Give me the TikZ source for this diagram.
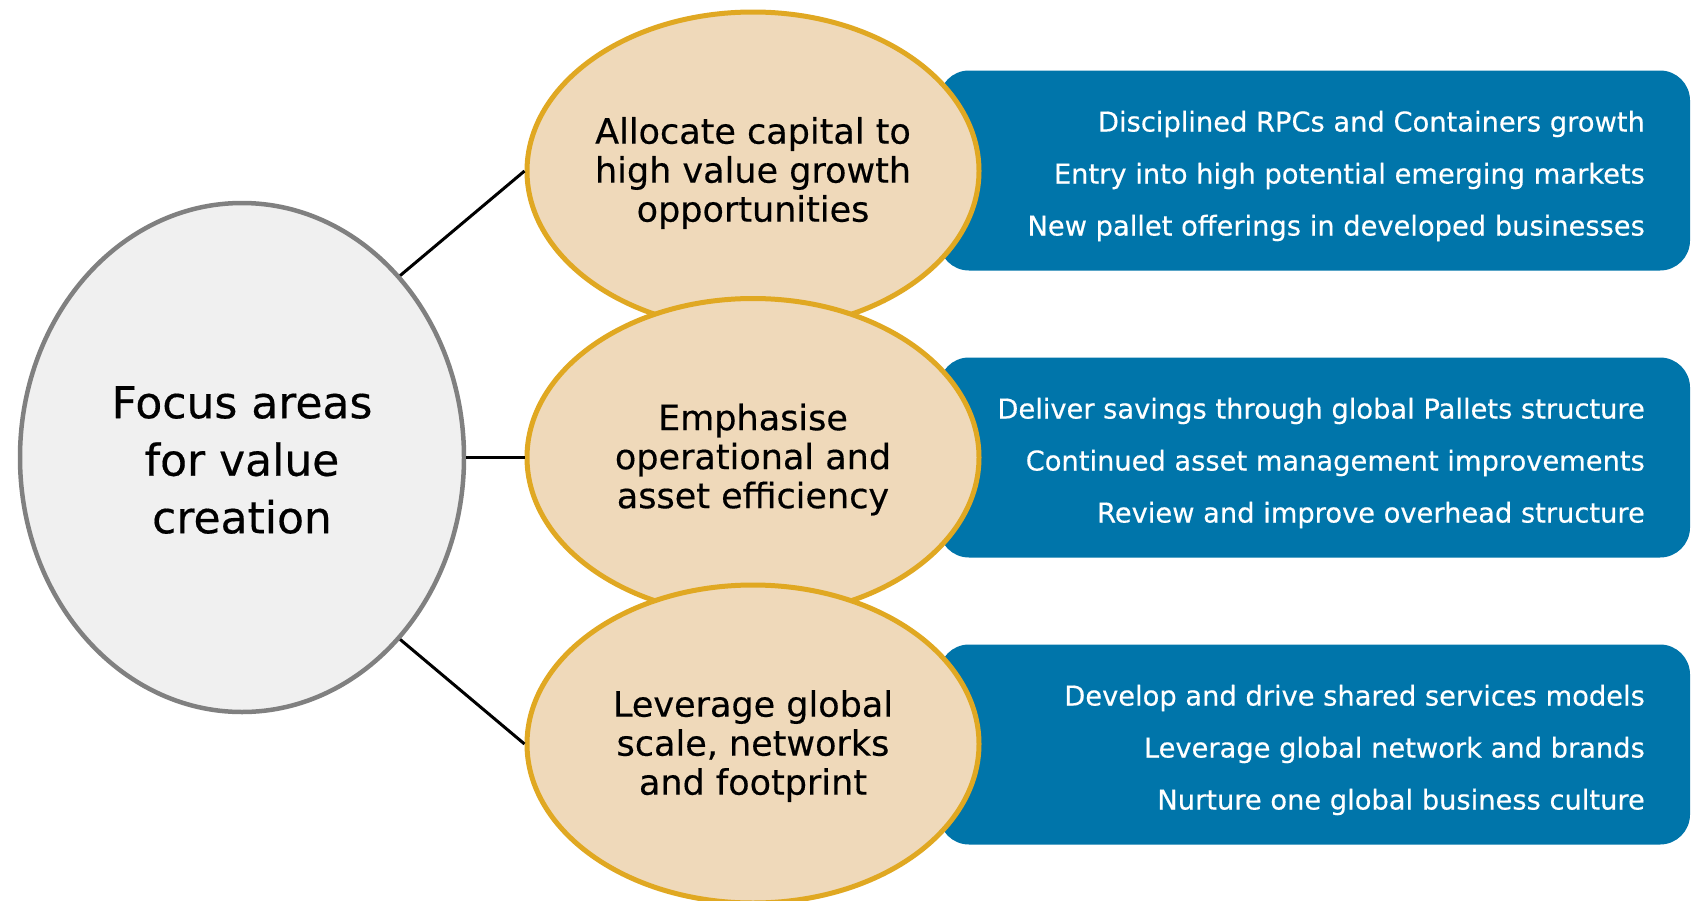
\documentclass[tikz,border=0pt]{standalone}
\usepackage{fontspec}
\setmainfont[FakeBold=0.4]{DejaVu Sans}
\usetikzlibrary{shapes.geometric}
\definecolor{goldline}{HTML}{E0A822}
\definecolor{wheatfill}{HTML}{EFD9BA}
\definecolor{greyline}{HTML}{808080}
\definecolor{greyfill}{HTML}{F0F0F0}
\definecolor{boxblue}{HTML}{0075AA}
\tikzset{
  focusnode/.style={ellipse, draw=greyline, fill=greyfill, line width=4.5pt,
    minimum width=444pt, minimum height=509pt, inner sep=0pt, align=center,
    font=\fontsize{44}{57.5}\selectfont},
  focustext/.style={align=center, inner sep=0pt, font=\fontsize{44}{57.5}\selectfont},
  areanode/.style={ellipse, draw=goldline, fill=wheatfill, line width=5pt,
    minimum width=452pt, minimum height=318pt, inner sep=0pt},
  areatext/.style={align=center, inner sep=0pt, font=\fontsize{35}{39}\selectfont},
  bluebox/.style={rectangle, rounded corners=30pt, fill=boxblue, draw=none,
    minimum width=751pt, minimum height=200pt, inner sep=0pt},
  boxtext/.style={anchor=east, align=right, text=white, inner sep=0pt,
    font=\fontsize{27.3}{52}\selectfont},
  link/.style={draw=black, line width=3pt}
}
\begin{document}
\begin{tikzpicture}[x=1pt,y=-1pt]
\useasboundingbox (0,0) rectangle (1692,900);
\fill[white] (0,0) rectangle (1692,900);

% blue boxes (behind ellipses)
\node[bluebox] (b1) at (1314.5,170.5) {};
\node[bluebox] (b2) at (1314.5,457.5) {};
\node[bluebox] (b3) at (1314.5,744.5) {};

\node[boxtext] (t1) at (1645,176) {Disciplined RPCs and Containers growth\\Entry into high potential emerging markets\\New pallet offerings in developed businesses};
\node[boxtext] (t2) at (1645,463) {Deliver savings through global Pallets structure\\Continued asset management improvements\\Review and improve overhead structure};
\node[boxtext] (t3) at (1645,750) {Develop and drive shared services models\\Leverage global network and brands\\Nurture one global business culture};

% focus circle
\node[focusnode] (focus) at (242,457.5) {};
\node[focustext] (ft) at (242,460) {Focus areas\\for value\\creation};

% area ellipses
\node[areanode] (e1) at (753,171) {};
\node[areatext] (a1) at (753,173) {Allocate capital to\\high value growth\\opportunities};
\node[areanode] (e2) at (753,457.5) {};
\node[areatext] (a2) at (753,459.5) {Emphasise\\operational and\\asset efficiency};
\node[areanode] (e3) at (753,744) {};
\node[areatext] (a3) at (753,746) {Leverage global\\scale, networks\\and footprint};

% connectors
\draw[link] (focus.49) -- (e1.west);
\draw[link] (focus.east) -- (e2.west);
\draw[link] (focus.-49) -- (e3.west);
\end{tikzpicture}
\end{document}
